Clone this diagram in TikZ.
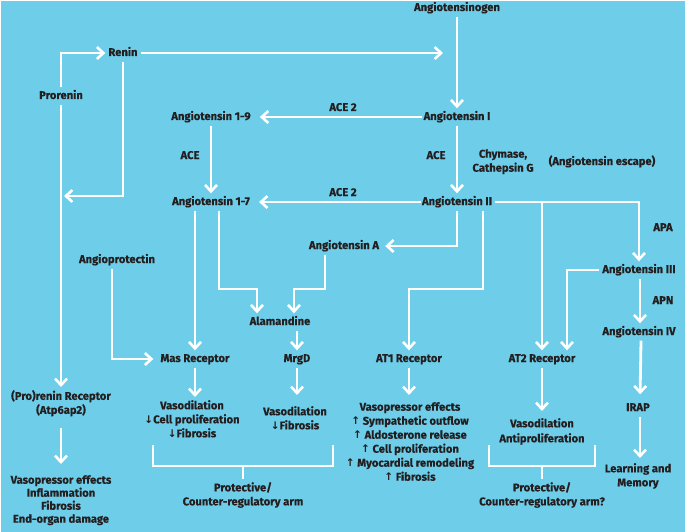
\documentclass[tikz,border=0pt]{standalone}
\usepackage{fontspec}
\setmainfont{Fira Sans}[BoldFeatures={FakeBold=0.3}]
\newfontfamily\arrowfont{DejaVu Sans}
\usetikzlibrary{arrows.meta,calc}
\definecolor{bg}{RGB}{110,205,233}
\definecolor{ink}{RGB}{35,31,32}
\newcommand{\arrdn}{{\arrowfont\bfseries\fontsize{10.5}{10}\selectfont ↓}}
\newcommand{\arrup}{{\arrowfont\bfseries\fontsize{10.5}{10}\selectfont ↑}}
\begin{document}
\begin{tikzpicture}[x=1pt,y=-1pt,
  lbl/.style={text=ink, font=\bfseries\fontsize{11.2}{14}\selectfont, inner sep=3pt, text height=8.5pt, text depth=2.5pt},
  multi/.style={text=ink, font=\bfseries\fontsize{11.2}{14}\selectfont, inner sep=3pt, align=center, anchor=north},
  wline/.style={draw=white, line width=2.8pt},
  arr/.style={wline, -{Straight Barb[length=6.5pt,width=12pt,line width=2.6pt]}},
]
\fill[white] (0,0) rectangle (685,532);
\fill[bg] (1,1) rectangle (685,532);
\useasboundingbox (0,0) rectangle (685,532);

% nodes
\node[lbl] (agen) at (457,8) {Angiotensinogen};
\node[lbl] (renin) at (123,53) {Renin};
\node[lbl] (prorenin) at (61,96) {Prorenin};
\node[lbl] (ang19) at (211,117) {Angiotensin 1-9};
\node[lbl] (angI) at (457,117) {Angiotensin I};
\node[lbl] (ace2a) at (343,108) {ACE 2};
\node[lbl] (acea) at (190,156) {ACE};
\node[lbl] (aceb) at (436,156) {ACE};
\node[multi] (chym) at (503,146) {Chymase,\\Cathepsin G};
\node[lbl] (escape) at (602,162) {(Angiotensin escape)};
\node[lbl] (ang17) at (211,202) {Angiotensin 1-7};
\node[lbl] (angII) at (457,202) {Angiotensin II};
\node[lbl] (ace2b) at (343,193) {ACE 2};
\node[lbl] (apa) at (663,228) {APA};
\node[lbl] (angA) at (344,246) {Angiotensin A};
\node[lbl] (angioprot) at (117,260) {Angioprotectin};
\node[lbl] (angIII) at (639,270) {Angiotensin III};
\node[lbl] (apn) at (663,301) {APN};
\node[lbl] (alam) at (280,322) {Alamandine};
\node[lbl] (angIV) at (639,332) {Angiotensin IV};
\node[lbl] (mas) at (195,359) {Mas Receptor};
\node[lbl] (mrgd) at (297,359) {MrgD};
\node[lbl] (at1) at (409,359) {AT1 Receptor};
\node[lbl] (at2) at (542,359) {AT2 Receptor};
\node[multi] (prr) at (61,387) {(Pro)renin Receptor\\(Atp6ap2)};
\node[lbl] (irap) at (638,408) {IRAP};
\node[multi] (masfx) at (192,397) {Vasodilation\\\arrdn Cell proliferation\\\arrdn Fibrosis};
\node[multi] (mrgdfx) at (295,403) {Vasodilation\\\arrdn Fibrosis};
\node[multi] (at1fx) at (410,399) {Vasopressor effects\\\arrup\ Sympathetic outflow\\\arrup\ Aldosterone release\\\arrup\ Cell proliferation\\\arrup\ Myocardial remodeling\\\arrup\ Fibrosis};
\node[multi] (at2fx) at (542,415) {Vasodilation\\[1pt]Antiproliferation};
\node[multi] (learn) at (638,460) {Learning and\\Memory};
\node[multi, font=\bfseries\fontsize{11.2}{13}\selectfont] (prrfx) at (61,472) {Vasopressor effects\\Inflammation\\Fibrosis\\End-organ damage};
\node[multi] (prot1) at (243,479) {Protective/\\Counter-regulatory arm};
\node[multi] (prot2) at (542,479) {Protective/\\Counter-regulatory arm?};

% coordinates
\coordinate (rtip) at (443,53);
\coordinate (j1) at (64,196);
\coordinate (k1) at (483,289);
\coordinate (k2) at (219,289);
\coordinate (k3) at (325,289);

% connectors
\draw[arr] (prorenin.north) |- (renin.west);
\draw[arr] (renin.east) -- (rtip);
\draw[arr] (renin.south) |- (j1);
\draw[arr] (prorenin.south) -- (prr.north);
\draw[arr, shorten <=8pt, shorten >=8pt] (prr.south) -- (prrfx.north);
\draw[arr] (agen.south) -- (angI.north);
\draw[arr, shorten <=-2pt, shorten >=6pt] (angI.west) -- (ang19.east);
\draw[arr] (angI.south) -- (angII.north);
\draw[arr] (ang19.south) -- (ang17.north);
\draw[arr, shorten <=-2pt, shorten >=6pt] (angII.west) -- (ang17.east);
\draw[arr, shorten >=3pt] (angII.south) |- (angA.east);
\draw[arr] ([xshift=26pt]angII.south) -- (k1) -| (at1.north);
\draw[arr] (angII.east) -| (angIII.north);
\draw[arr] (at2.north |- angII.east) -- (at2.north);
\draw[arr] (angIII.west) -| ([xshift=25pt]at2.north);
\draw[arr] ([xshift=1pt]angIII.south) -- ([xshift=1pt]angIV.north);
\draw[arr, shorten >=5pt] ([xshift=2pt]angIV.south) -- ([xshift=2pt]irap.north);
\draw[arr, shorten >=2pt] ([xshift=2pt]irap.south) -- ([xshift=2pt]learn.north);
\draw[arr] (mas.north |- ang17.south) -- (mas.north);
\draw[arr] ([xshift=8pt]ang17.south) -- (k2) -| ([xshift=-23pt]alam.north);
\draw[arr] ([xshift=-19pt]angA.south) -- (k3) -| ([xshift=14pt]alam.north);
\draw[arr] (mrgd.north |- alam.south) -- (mrgd.north);
\draw[arr, shorten >=4pt] ([xshift=-5pt]angioprot.south) |- (mas.west);
\draw[arr] (mas.south) -- (mas.south |- masfx.north);
\draw[arr, shorten >=8pt] (mrgd.south) -- (mrgd.south |- mrgdfx.north);
\draw[arr, shorten >=4pt] (at1.south) -- (at1.south |- at1fx.north);
\draw[arr, shorten >=4pt] (at2.south) -- (at2.south |- at2fx.north);

% brackets
\draw[wline] (153,445) -- (153,466) -- (333,466) -- (333,445);
\draw[wline] (243,466) -- (prot1.north);
\draw[wline] (489,445) -- (489,466) -- (595,466) -- (595,445);
\draw[wline] (542,466) -- (prot2.north);
\end{tikzpicture}
\end{document}
